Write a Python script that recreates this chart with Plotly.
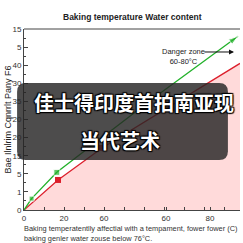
import plotly.graph_objects as go

# Data (x in axis units 0..108, y in tick-index units 0..10)
green_x = [0, 3.8, 16.4, 65, 107]
green_y = [0, 0.63, 2.08, 6.2, 9.6]
red_x = [0, 17, 39, 108]
red_y = [0, 1.66, 3.43, 8.1]

y_tickvals = list(range(11))
y_ticktext = ["0", "1", "5", "15", "20", "20", "35", "30", "40", "5", "15"]
x_tickvals = [0, 20, 40, 71, 93]
x_ticktext = ["0", "20", "60", "60", "80"]

title = "Baking temperature Water content"
y_title = "Bae Ilnlrim Cqnrrlt Pany F6"
x_title = "Baking temperatentlly affectial with a tempament, fower fower (C)<br>baking genler water zouse below 76°C."
danger_text = "Danger zone<br>60-80°C"
overlay_line1 = "佳士得印度首拍南亚现"
overlay_line2 = "当代艺术"

GREEN = "#22b12a"
RED = "#dc1f2c"

fig = go.Figure()
fig.add_trace(go.Scatter(
    x=red_x, y=red_y, mode="lines", line=dict(color=RED, width=1.3),
    fill="tozeroy", fillcolor="rgba(255,205,205,0.75)", hoverinfo="skip", showlegend=False))
fig.add_trace(go.Scatter(
    x=red_x[1:3], y=red_y[1:3], mode="markers",
    marker=dict(symbol="square", size=6, color=RED), showlegend=False))
fig.add_trace(go.Scatter(
    x=green_x, y=green_y, mode="lines", line=dict(color=GREEN, width=1.3), showlegend=False))
fig.add_trace(go.Scatter(
    x=green_x[1:4], y=green_y[1:4], mode="markers",
    marker=dict(symbol="square", size=[5, 6, 6], color=GREEN), showlegend=False))
fig.add_trace(go.Scatter(
    x=green_x[-2:], y=green_y[-2:], mode="markers",
    marker=dict(symbol="arrow", size=[0, 10], angleref="previous", color=GREEN), showlegend=False))

# overlay rounded rectangle (paper coords)
x0, x1, y0, y1 = -0.032, 0.944, 0.276, 0.702
rx, ry = 0.04, 0.048
path = (f"M {x0+rx},{y0} L {x1-rx},{y0} Q {x1},{y0} {x1},{y0+ry} "
        f"L {x1},{y1-ry} Q {x1},{y1} {x1-rx},{y1} L {x0+rx},{y1} "
        f"Q {x0},{y1} {x0},{y1-ry} L {x0},{y0+ry} Q {x0},{y0} {x0+rx},{y0} Z")
fig.add_shape(type="path", path=path, xref="paper", yref="paper",
              fillcolor="rgba(38,36,36,0.82)", line=dict(width=0), layer="above")

cjk = dict(family="Noto Sans CJK SC", size=20, color="white", weight="bold",
           shadow="1px 1px 1px #000, -1px -1px 1px #000, 1px -1px 1px #000, -1px 1px 1px #000")
fig.add_annotation(text=overlay_line1, xref="paper", yref="paper", x=0.51, y=0.596,
                   showarrow=False, font=cjk, xanchor="center", yanchor="middle")
fig.add_annotation(text=overlay_line2, xref="paper", yref="paper", x=0.445, y=0.386,
                   showarrow=False, font=cjk, xanchor="center", yanchor="middle")

# danger zone label and arrow
fig.add_annotation(text=danger_text, x=79.5, y=8.5, showarrow=False,
                   font=dict(family="Liberation Sans, Arial", size=7.5, color="#222"), align="center")
fig.add_annotation(x=105, y=8.73, ax=89.5, ay=8.73, axref="x", ayref="y", text="",
                   showarrow=True, arrowhead=2, arrowsize=1, arrowwidth=1, arrowcolor="#111")

# title & axis titles
fig.add_annotation(text=f"<b>{title}</b>", xref="paper", yref="paper", x=0.5, y=1.0,
                   yshift=12, yanchor="middle", showarrow=False,
                   font=dict(family="Liberation Sans, Arial", size=8.5, color="#222"))
fig.add_annotation(text=y_title, xref="paper", yref="paper", x=0, xshift=-17, y=0.5,
                   textangle=-90, showarrow=False, xanchor="center", yanchor="middle",
                   font=dict(family="Liberation Sans, Arial", size=9, color="#222"))
fig.add_annotation(text=x_title, xref="paper", yref="paper", x=0, xshift=-2, y=0, yshift=-12,
                   xanchor="left", yanchor="top", align="left", showarrow=False,
                   font=dict(family="Liberation Sans, Arial", size=7.4, color="#333"))

fig.update_layout(
    width=243, height=243, margin=dict(l=24, r=3, t=29, b=33),
    paper_bgcolor="white", plot_bgcolor="white",
    xaxis=dict(range=[0, 108], tickvals=x_tickvals, ticktext=x_ticktext, showgrid=False,
               zeroline=False, showline=True, linecolor="#444", linewidth=1,
               ticks="inside", ticklen=3, tickcolor="#444",
               minor=dict(tickvals=list(range(0, 109, 10)), ticks="inside", ticklen=3, tickcolor="#444"),
               tickfont=dict(family="Liberation Sans, Arial", size=8, color="#333")),
    yaxis=dict(range=[0, 10], tickvals=y_tickvals, ticktext=y_ticktext, showgrid=False,
               zeroline=False, showline=True, linecolor="#444", linewidth=1,
               ticks="inside", ticklen=4, tickcolor="#444",
               minor=dict(dtick=0.5, ticks="inside", ticklen=2, tickcolor="#444"),
               tickfont=dict(family="Liberation Sans, Arial", size=8, color="#333")),
)
fig.add_shape(type="line", xref="paper", yref="paper", x0=0, x1=1, y0=1, y1=1,
              line=dict(color="#444", width=1))

fig.write_html("out.html")
